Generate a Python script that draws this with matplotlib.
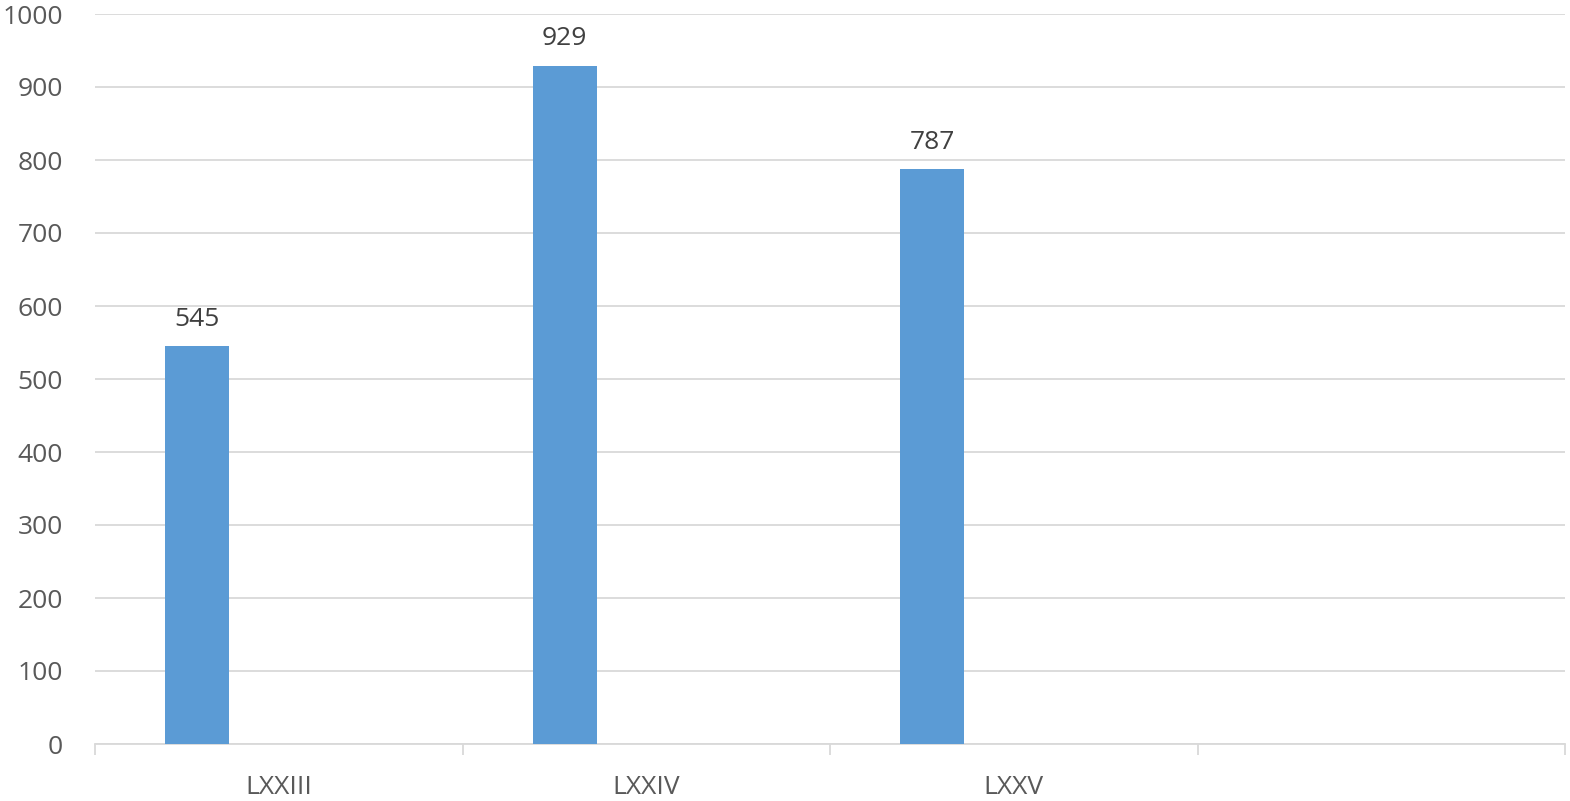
import matplotlib
matplotlib.use("Agg")
import matplotlib.pyplot as plt

categories = ["LXXIII", "LXXIV", "LXXV", ""]
values = [545, 929, 787]
y_ticks = [0, 100, 200, 300, 400, 500, 600, 700, 800, 900, 1000]

plt.rcParams['font.family'] = ['Open Sans', 'DejaVu Sans']
fs = 19

fig = plt.figure(figsize=(15.70, 8.01), dpi=100)
ax = fig.add_axes([95 / 1570, 1 - 744 / 801, 1470 / 1570, 730 / 801])

# bars sit left of each category slot centre
bar_x = [i + 0.278 for i in range(len(values))]
bars = ax.bar(bar_x, values, width=0.174, color='#5B9BD5', zorder=3)
for b, v in zip(bars, values):
    ax.text(b.get_x() + b.get_width() / 2, v + 20, str(v), ha='center', va='bottom',
            fontsize=fs, color='#404040')

ax.set_xlim(0, len(categories))
ax.set_ylim(0, 1000)
ax.set_yticks(y_ticks)
ax.set_yticklabels([str(t) for t in y_ticks], fontsize=fs, color='#595959')
ax.yaxis.grid(True, color='#D9D9D9', linewidth=1.3, zorder=0)
ax.tick_params(axis='y', length=0, pad=23)

ax.set_xticks(range(len(categories) + 1))
ax.set_xticklabels([])
ax.tick_params(axis='x', length=8, color='#D9D9D9', width=1.3)
for i, c in enumerate(categories):
    ax.text(i + 0.5, -0.042, c, transform=ax.get_xaxis_transform(), ha='center', va='top',
            fontsize=fs, color='#595959')

for s in ['top', 'right', 'left']:
    ax.spines[s].set_visible(False)
ax.spines['bottom'].set_color('#D9D9D9')
ax.spines['bottom'].set_linewidth(1.3)

fig.savefig('out.png', dpi=100)
